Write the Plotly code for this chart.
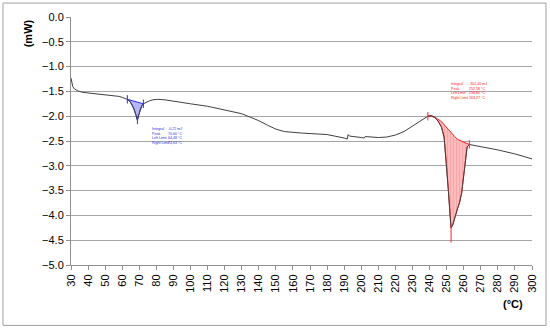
import plotly.graph_objs as go

# DSC curve
temp = [30, 30.5, 31, 32, 34, 37, 40, 45, 50, 55, 58, 60, 62, 63, 64.5, 66, 67, 68, 68.9,
        69.6, 70.6, 71.5, 72.4, 74, 76, 78, 80.6, 85, 90, 100, 110, 120, 130, 135, 140, 145,
        150, 155, 160, 165, 170, 180, 190, 191.8, 192.3, 193, 200, 201.8, 202.3, 205, 210,
        215, 220, 225, 230, 233, 236, 239, 241, 243, 245, 247, 248.5, 250, 251, 252, 252.6,
        253.5, 255, 256.5, 257.5, 258.8, 260, 261, 262, 263.3, 265, 270, 280, 290, 300]
heat_flow = [-1.23, -1.33, -1.40, -1.45, -1.49, -1.52, -1.53, -1.55, -1.57, -1.58, -1.60, -1.62,
             -1.64, -1.66, -1.70, -1.78, -1.86, -1.97, -2.08, -1.98, -1.86, -1.79, -1.75, -1.72,
             -1.69, -1.67, -1.66, -1.67, -1.70, -1.75, -1.80, -1.87, -1.95, -2.02, -2.09, -2.18,
             -2.26, -2.31, -2.33, -2.34, -2.35, -2.37, -2.44, -2.46, -2.37, -2.40, -2.43, -2.44,
             -2.41, -2.42, -2.43, -2.42, -2.38, -2.31, -2.20, -2.12, -2.05, -2.00, -1.99, -2.02,
             -2.10, -2.22, -2.42, -3.00, -3.50, -4.00, -4.25, -4.20, -4.00, -3.85, -3.75, -3.55,
             -3.20, -2.85, -2.62, -2.57, -2.58, -2.62, -2.68, -2.76, -2.86]

# first peak (blue) - straight baseline
blue_limits = [63, 72.4]
blue_base = [-1.66, -1.75]
blue_peak = [68.9, -2.16]
blue_labels = ['Integral', 'Peak', 'Left Limit', 'Right Limit']
blue_values = ['-0,22 mJ', '70,60 °C', '64,48 °C', '74,63 °C']

# second peak (red) - sigmoid baseline
red_base_t = [239, 241, 244, 247, 250, 252, 254.7, 256.5, 258.8, 261, 263.3]
red_base_y = [-2.00, -2.00, -2.04, -2.11, -2.22, -2.30, -2.41, -2.47, -2.51, -2.54, -2.57]
red_peak = [252.6, -4.55]
red_labels = ['Integral', 'Peak', 'Left Limit', 'Right Limit']
red_values = ['-302,45 mJ', '252,58 °C', '238,80 °C', '263,27 °C']

x_ticks = list(range(30, 301, 10))


def peak_polygon(t0, t1, base_t, base_y):
    seg = [(t, h) for t, h in zip(temp, heat_flow) if t0 <= t <= t1]
    xs = [p[0] for p in seg] + list(reversed(base_t))
    ys = [p[1] for p in seg] + list(reversed(base_y))
    return xs, ys


fig = go.Figure()

bx, by = peak_polygon(blue_limits[0], blue_limits[1], blue_limits, blue_base)
fig.add_trace(go.Scatter(x=bx, y=by, fill='toself', mode='lines',
                         line=dict(color='#3030e0', width=1),
                         fillcolor='rgba(120,120,240,0.55)', hoverinfo='skip'))

rx, ry = peak_polygon(red_base_t[0], red_base_t[-1], red_base_t, red_base_y)
fig.add_trace(go.Scatter(x=rx, y=ry, fill='toself', mode='lines',
                         line=dict(color='#ff2020', width=1),
                         fillcolor='#ffbcbc',
                         fillpattern=dict(shape='|', fgcolor='#f48a8a', fillmode='overlay',
                                          size=3, solidity=0.3),
                         hoverinfo='skip'))

fig.add_trace(go.Scatter(x=temp, y=heat_flow, mode='lines',
                         line=dict(color='#404040', width=1)))

# peak droplines and limit marks
fig.add_trace(go.Scatter(x=[blue_peak[0], blue_peak[0]], y=[-2.0, blue_peak[1]], mode='lines',
                         line=dict(color='#3030e0', width=1)))
fig.add_trace(go.Scatter(x=[red_peak[0], red_peak[0]], y=[-4.2, red_peak[1]], mode='lines',
                         line=dict(color='#ff2020', width=1)))
fig.add_trace(go.Scatter(x=blue_limits, y=blue_base, mode='markers',
                         marker=dict(symbol='line-ns', size=6, line=dict(color='#3030e0', width=1))))
fig.add_trace(go.Scatter(x=[red_base_t[0], red_base_t[-1]], y=[red_base_y[0], red_base_y[-1]],
                         mode='markers',
                         marker=dict(symbol='line-ns', size=6, line=dict(color='#ff2020', width=1))))

small = dict(family='Liberation Sans', size=3.6)
fig.add_annotation(x=76.5, y=-2.18, text='<br>'.join(blue_labels), showarrow=False,
                   xanchor='left', yanchor='top', align='left', font=dict(small, color='#3030e0'))
fig.add_annotation(x=85.8, y=-2.18, text='<br>'.join(blue_values), showarrow=False,
                   xanchor='left', yanchor='top', align='left', font=dict(small, color='#3030e0'))
fig.add_annotation(x=251.2, y=-1.28, text='<br>'.join(red_labels), showarrow=False,
                   xanchor='left', yanchor='top', align='left', font=dict(small, color='#ff2020'))
fig.add_annotation(x=261.8, y=-1.28, text='<br>'.join(red_values), showarrow=False,
                   xanchor='left', yanchor='top', align='left', font=dict(small, color='#ff2020'))

fig.add_annotation(xref='paper', yref='paper', x=-0.11, y=1.0, text='<b>(mW)</b>',
                   textangle=-90, showarrow=False, font=dict(size=11, color='#000000'))
fig.add_annotation(xref='paper', yref='paper', x=0.985, y=-0.19, text='<b>(°C)</b>',
                   showarrow=False, font=dict(size=11, color='#000000'))

# chart area border
fig.add_shape(type='rect', xref='paper', yref='paper', x0=-0.1475, x1=1.0304, y0=-0.2435, y1=1.0563,
              line=dict(color='#a0a0a0', width=1))

fig.update_layout(
    width=550, height=330,
    margin=dict(l=71, r=18, t=17, b=64.5),
    plot_bgcolor='white', paper_bgcolor='white',
    showlegend=False,
    font=dict(family='Liberation Sans', size=11, color='#000000'),
    xaxis=dict(range=[30, 300], tickvals=x_ticks, tickangle=-90, showgrid=False,
               showline=True, linecolor='#909090', linewidth=1, ticks='outside',
               ticklen=4, tickcolor='#909090', zeroline=False),
    yaxis=dict(range=[-5, 0], dtick=0.5, tickformat='.1f', showgrid=True,
               gridcolor='#a6a6a6', gridwidth=1.3, showline=True, linecolor='#909090',
               linewidth=1, ticks='outside', ticklen=4, tickcolor='#909090', zeroline=False),
)

fig.write_html("out.html", config={'displayModeBar': False},
               post_script="document.body.style.margin='0';")
